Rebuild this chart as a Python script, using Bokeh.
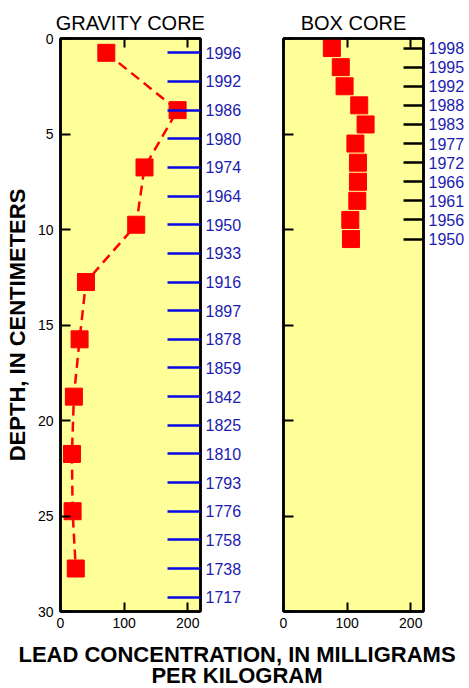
from bokeh.plotting import figure
from bokeh.models import Range1d, LinearAxis, FixedTicker, Label, ColumnDataSource
from bokeh.layouts import row, column
from bokeh.embed import file_html
from bokeh.resources import INLINE

# ---------------- data ----------------
depth_ticks = [0, 5, 10, 15, 20, 25, 30]
conc_ticks = [0, 100, 200]

gravity_depth = [0.75, 3.75, 6.75, 9.75, 12.75, 15.75, 18.75, 21.75, 24.75, 27.75]
gravity_lead = [72, 184, 132, 119, 40, 30, 21, 18, 19, 24]
gravity_year_depth = [0.75, 2.25, 3.75, 5.25, 6.75, 8.25, 9.75, 11.25, 12.75, 14.25,
                      15.75, 17.25, 18.75, 20.25, 21.75, 23.25, 24.75, 26.25, 27.75, 29.25]
gravity_years = [1996, 1992, 1986, 1980, 1974, 1964, 1950, 1933, 1916, 1897,
                 1878, 1859, 1842, 1825, 1810, 1793, 1776, 1758, 1738, 1717]

box_depth = [0.5, 1.5, 2.5, 3.5, 4.5, 5.5, 6.5, 7.5, 8.5, 9.5, 10.5]
box_lead = [76, 90, 96, 119, 129, 113, 117, 117, 116, 105, 106]
box_years = [1998, 1995, 1992, 1988, 1983, 1977, 1972, 1966, 1961, 1956, 1950]

# ---------------- style ----------------
FONT = "Liberation Sans"
BG = "#FFFF99"
RED = "#FF0000"
BLUE_TICK = "#0808E8"
BLUE_TEXT = "#1C1CB0"


def base_fig(width, mbl, mbr, title):
    p = figure(width=width, height=640, x_range=Range1d(0, 220), y_range=Range1d(30, 0),
               output_backend="svg", toolbar_location=None,
               min_border_left=mbl, min_border_right=mbr, min_border_top=38, min_border_bottom=29,
               background_fill_color=BG, border_fill_color="white", title=title)
    p.title.align = "center"
    p.title.text_font = FONT
    p.title.text_font_size = "20px"
    p.title.text_font_style = "normal"
    p.title.text_color = "black"
    p.title.standoff = 10
    p.grid.visible = False
    p.outline_line_color = "black"
    p.outline_line_width = 2.5
    # bottom axis
    xa = p.xaxis[0]
    xa.ticker = FixedTicker(ticks=conc_ticks)
    xa.major_tick_in = 9
    xa.major_tick_out = 0
    xa.major_tick_line_width = 2
    xa.axis_line_width = 2.5
    xa.major_label_text_font = FONT
    xa.major_label_text_font_size = "14px"
    xa.major_label_text_color = "black"
    xa.major_label_standoff = 6
    # top axis (ticks only, labels not drawn)
    top = LinearAxis(ticker=FixedTicker(ticks=conc_ticks), major_tick_in=9, major_tick_out=0,
                     major_tick_line_width=2, axis_line_width=2.5,
                     major_label_text_font_size="1px", major_label_text_color=None,
                     major_label_standoff=0)
    p.add_layout(top, "above")
    # left axis
    ya = p.yaxis[0]
    ya.ticker = FixedTicker(ticks=depth_ticks)
    ya.major_tick_in = 10
    ya.major_tick_out = 0
    ya.major_tick_line_width = 2
    ya.axis_line_width = 2.5
    ya.major_label_text_font = FONT
    ya.major_label_text_font_size = "14px"
    ya.major_label_text_color = "black"
    ya.major_label_standoff = 7
    return p


# ---------------- gravity core ----------------
p1 = base_fig(250, 60, 50, "GRAVITY CORE")
p1.yaxis[0].axis_label = "DEPTH, IN CENTIMETERS"
p1.yaxis[0].axis_label_text_font = FONT
p1.yaxis[0].axis_label_text_font_size = "22px"
p1.yaxis[0].axis_label_text_font_style = "bold"
p1.yaxis[0].axis_label_text_color = "black"
p1.yaxis[0].axis_label_standoff = 5

gyr = LinearAxis(ticker=FixedTicker(ticks=gravity_year_depth),
                 major_label_overrides={d: str(y) for d, y in zip(gravity_year_depth, gravity_years)},
                 major_tick_in=33, major_tick_out=0, major_tick_line_color=BLUE_TICK,
                 major_tick_line_width=2.5, axis_line_width=2.5, axis_line_color="black",
                 major_label_text_font=FONT, major_label_text_font_size="16px",
                 major_label_text_color=BLUE_TEXT, major_label_standoff=5)
p1.add_layout(gyr, "right")

gsrc = ColumnDataSource(dict(depth=gravity_depth, lead=gravity_lead))
p1.line("lead", "depth", source=gsrc, line_color=RED, line_width=2.5, line_dash="10 6")
p1.scatter("lead", "depth", source=gsrc, marker="square", size=17,
           fill_color=RED, line_color=RED)

# ---------------- box core ----------------
p2 = base_fig(219, 33, 46, "BOX CORE")
p2.yaxis[0].major_label_text_font_size = "1px"
p2.yaxis[0].major_label_text_color = None
p2.yaxis[0].major_label_standoff = 0

byr = LinearAxis(ticker=FixedTicker(ticks=box_depth),
                 major_label_overrides={d: str(y) for d, y in zip(box_depth, box_years)},
                 major_tick_in=20, major_tick_out=0, major_tick_line_color="black",
                 major_tick_line_width=2.5, axis_line_width=2.5, axis_line_color="black",
                 major_label_text_font=FONT, major_label_text_font_size="16px",
                 major_label_text_color=BLUE_TEXT, major_label_standoff=5)
p2.add_layout(byr, "right")

bsrc = ColumnDataSource(dict(depth=box_depth, lead=box_lead))
p2.scatter("lead", "depth", source=bsrc, marker="square", size=17,
           fill_color=RED, line_color=RED)

# ---------------- shared x title ----------------
p3 = figure(width=469, height=48, x_range=Range1d(0, 469), y_range=Range1d(48, 0),
            output_backend="svg", toolbar_location=None, min_border=0,
            x_axis_type=None, y_axis_type=None)
p3.outline_line_color = None
p3.grid.visible = False
for yy, txt in [(14, "LEAD CONCENTRATION, IN MILLIGRAMS"), (35, "PER KILOGRAM")]:
    p3.add_layout(Label(x=236.5, y=yy, text=txt, text_align="center", text_baseline="middle",
                        text_font=FONT, text_font_size="22px", text_font_style="bold",
                        text_color="black"))

layout = column(row(p1, p2), p3)
open("out.html", "w").write(file_html(layout, INLINE))
